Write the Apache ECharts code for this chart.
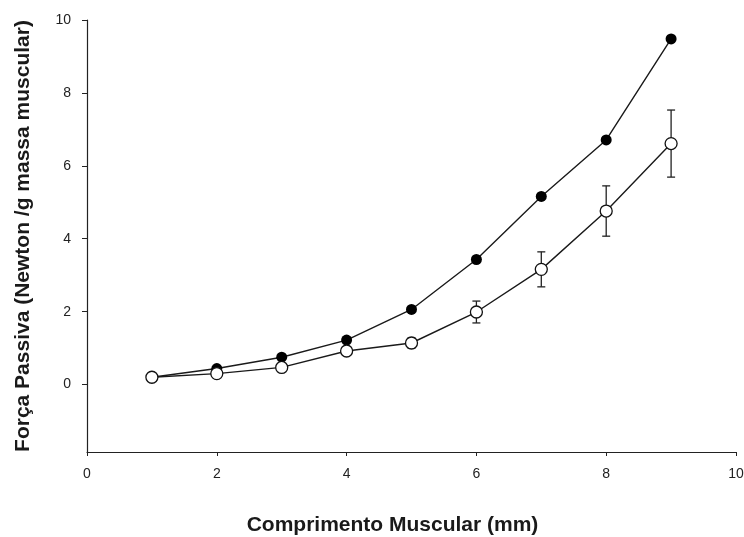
<!DOCTYPE html>
<html>
<head>
<meta charset="utf-8">
<script src="https://cdn.jsdelivr.net/npm/echarts@6/dist/echarts.min.js"></script>
<style>
    html, body { margin: 0; padding: 0; background: #fff; }
    #chart { width: 744px; height: 537px; }
</style>
</head>
<body>
<div id="chart"></div>
<script>
// comprimento muscular (mm)
var comprimento = [1, 2, 3, 4, 5, 6, 7, 8, 9];
// força passiva, círculos cheios
var forcaCheio = [0.2, 0.44, 0.75, 1.22, 2.06, 3.43, 5.16, 6.71, 9.48];
// força passiva, círculos abertos, com erro padrão
var forcaAberto = [0.2, 0.3, 0.47, 0.92, 1.14, 1.99, 3.16, 4.76, 6.61];
var erroAberto = [0.05, 0.05, 0.07, 0.1, 0.14, 0.3, 0.48, 0.69, 0.92];
// rótulos dos eixos
var yTicks = [0, 2, 4, 6, 8, 10];

(function() {
    var myChart = echarts.init(document.getElementById('chart'));
    var fonte = 'Liberation Sans, Arial, sans-serif';

    var cheio = comprimento.map(function(x, i) { return [x, forcaCheio[i]]; });
    var aberto = comprimento.map(function(x, i) { return [x, forcaAberto[i]]; });
    var barras = comprimento.map(function(x, i) {
        return [x, forcaAberto[i] - erroAberto[i], forcaAberto[i] + erroAberto[i]];
    });

    var option = {
        backgroundColor: '#fff',
        animation: false,
        grid: { left: 87, right: 8, top: 20, bottom: 85, outerBoundsMode: 'none' },
        xAxis: {
            type: 'value',
            min: 0, max: 10, interval: 2,
            name: 'Comprimento Muscular (mm)',
            nameLocation: 'middle',
            nameGap: 63,
            nameTextStyle: { fontFamily: fonte, fontSize: 21, fontWeight: 'bold', color: '#1a1a1a', padding: [0, 38, 0, 0] },
            axisLine: { onZero: false, lineStyle: { color: '#222', width: 1.2 } },
            axisTick: { show: true, length: 4, lineStyle: { color: '#222' } },
            axisLabel: { fontFamily: fonte, fontSize: 14, color: '#222', margin: 15 },
            splitLine: { show: false }
        },
        yAxis: {
            type: 'value',
            min: -1.85, max: 10,
            name: 'Força Passiva (Newton /g massa muscular)',
            nameLocation: 'middle',
            nameGap: 53,
            nameTextStyle: { fontFamily: fonte, fontSize: 21, fontWeight: 'bold', color: '#1a1a1a' },
            axisLine: { onZero: false, lineStyle: { color: '#222', width: 1.2 } },
            axisTick: { show: true, length: 5, customValues: yTicks, lineStyle: { color: '#222' } },
            axisLabel: { fontFamily: fonte, fontSize: 14, color: '#222', margin: 16, customValues: yTicks },
            splitLine: { show: false }
        },
        series: [
            {
                type: 'custom',
                name: 'erro',
                z: 1,
                renderItem: function(params, api) {
                    var x = api.value(0);
                    var lo = api.coord([x, api.value(1)]);
                    var hi = api.coord([x, api.value(2)]);
                    var w = 4;
                    var estilo = { stroke: '#222', lineWidth: 1.3 };
                    return {
                        type: 'group',
                        children: [
                            { type: 'line', shape: { x1: lo[0], y1: lo[1], x2: hi[0], y2: hi[1] }, style: estilo },
                            { type: 'line', shape: { x1: lo[0] - w, y1: lo[1], x2: lo[0] + w, y2: lo[1] }, style: estilo },
                            { type: 'line', shape: { x1: hi[0] - w, y1: hi[1], x2: hi[0] + w, y2: hi[1] }, style: estilo }
                        ]
                    };
                },
                data: barras
            },
            {
                type: 'line',
                name: 'cheio',
                z: 3,
                data: cheio,
                symbol: 'circle',
                symbolSize: 11,
                lineStyle: { color: '#1a1a1a', width: 1.4 },
                itemStyle: { color: '#000', borderColor: '#000', borderWidth: 0 }
            },
            {
                type: 'line',
                name: 'aberto',
                z: 4,
                data: aberto,
                symbol: 'circle',
                symbolSize: 12,
                showAllSymbol: true,
                lineStyle: { color: '#1a1a1a', width: 1.4 },
                itemStyle: { color: '#fff', borderColor: '#111', borderWidth: 1.3 }
            }
        ]
    };
    myChart.setOption(option);
})();
</script>
</body>
</html>
